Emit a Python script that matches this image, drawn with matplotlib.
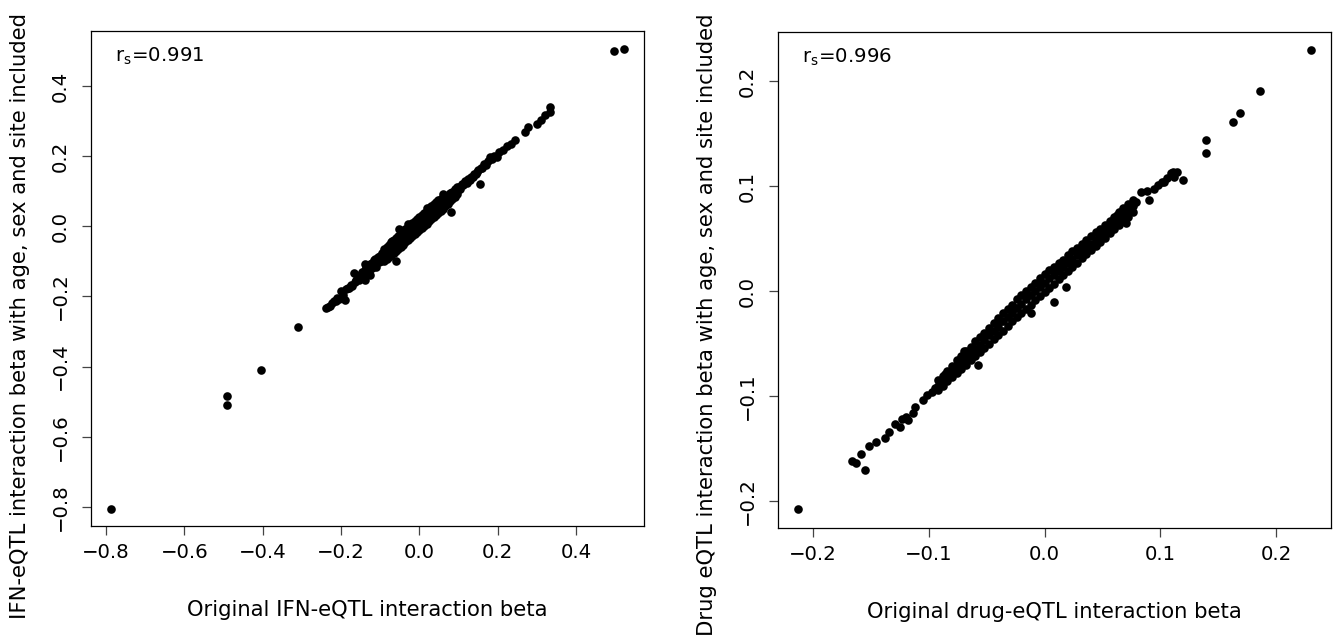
import matplotlib.pyplot as plt
import numpy as np

plt.rcParams['font.family'] = ['DejaVu Sans']
plt.rcParams['mathtext.fontset'] = 'dejavusans'

# ---- IFN-eQTL panel (original beta vs covariate-adjusted beta) ----
ifn_orig = [-0.787, -0.492, -0.490, -0.404, -0.309, 0.496, 0.522,
            # lower tail
            -0.238, -0.233, -0.229, -0.224, -0.219, -0.214, -0.210, -0.205, -0.199, -0.196,
            -0.191, -0.187, -0.183, -0.179, -0.175, -0.171, -0.168, -0.165, -0.161, -0.158,
            -0.155, -0.151, -0.148, -0.145, -0.142, -0.140, -0.138, -0.135, -0.132, -0.130,
            -0.127, -0.124, -0.121, -0.118, -0.115, -0.112, -0.110, -0.107, -0.104, -0.101,
            -0.098, -0.095, -0.092, -0.140, -0.134, -0.120, -0.113, -0.103, -0.060, -0.052,
            -0.146, -0.136, -0.126, -0.116, -0.106, -0.096,
            # dense core
            -0.090, -0.090, -0.090, -0.090, -0.084, -0.084, -0.084, -0.084,
            -0.078, -0.078, -0.078, -0.078, -0.072, -0.072, -0.072, -0.072,
            -0.066, -0.066, -0.066, -0.066, -0.060, -0.060, -0.060, -0.060,
            -0.054, -0.054, -0.054, -0.054, -0.048, -0.048, -0.048, -0.048,
            -0.042, -0.042, -0.042, -0.042, -0.036, -0.036, -0.036, -0.036,
            -0.030, -0.030, -0.030, -0.030, -0.024, -0.024, -0.024, -0.024,
            -0.018, -0.018, -0.018, -0.018, -0.012, -0.012, -0.012, -0.012,
            -0.006, -0.006, -0.006, -0.006, 0.000, 0.000, 0.000, 0.000,
            0.006, 0.006, 0.006, 0.006, 0.012, 0.012, 0.012, 0.012,
            0.018, 0.018, 0.018, 0.018, 0.024, 0.024, 0.024, 0.024,
            0.030, 0.030, 0.030, 0.030, 0.036, 0.036, 0.036, 0.036,
            0.042, 0.042, 0.042, 0.042, 0.048, 0.048, 0.048, 0.048,
            0.054, 0.054, 0.054, 0.054, 0.060, 0.060, 0.060, 0.060,
            0.066, 0.066, 0.066, 0.072, 0.072, 0.072, 0.078, 0.078, 0.078,
            0.084, 0.084, 0.084, 0.090, 0.090, 0.090, 0.096, 0.096, 0.096,
            0.081, 0.059, -0.070, -0.028, 0.020,
            # upper tail
            0.100, 0.104, 0.108, 0.112, 0.116, 0.120, 0.124, 0.128, 0.132, 0.136,
            0.140, 0.143, 0.146, 0.150, 0.154, 0.156, 0.160, 0.165, 0.170, 0.175,
            0.181, 0.186, 0.190, 0.197, 0.202, 0.213, 0.224, 0.234, 0.245, 0.270,
            0.277, 0.299, 0.310, 0.320, 0.334, 0.334]
ifn_adj = [-0.805, -0.510, -0.483, -0.410, -0.288, 0.501, 0.506,
           -0.232, -0.229, -0.226, -0.220, -0.214, -0.212, -0.204, -0.207, -0.185, -0.196,
           -0.211, -0.180, -0.176, -0.177, -0.167, -0.170, -0.133, -0.158, -0.154, -0.148,
           -0.152, -0.140, -0.146, -0.133, -0.138, -0.154, -0.126, -0.130, -0.122, -0.131,
           -0.140, -0.113, -0.118, -0.104, -0.110, -0.100, -0.116, -0.092, -0.101, -0.086,
           -0.099, -0.082, -0.088, -0.107, -0.118, -0.104, -0.093, -0.094, -0.099, -0.009,
           -0.130, -0.119, -0.108, -0.095, -0.087, -0.075,
           -0.100, -0.088, -0.076, -0.064, -0.094, -0.082, -0.070, -0.058,
           -0.088, -0.076, -0.064, -0.052, -0.082, -0.070, -0.058, -0.046,
           -0.076, -0.064, -0.052, -0.040, -0.070, -0.058, -0.046, -0.033,
           -0.064, -0.052, -0.040, -0.027, -0.058, -0.046, -0.034, -0.021,
           -0.052, -0.040, -0.028, -0.015, -0.046, -0.034, -0.022, -0.009,
           -0.040, -0.028, -0.016, -0.003, -0.034, -0.022, -0.010, 0.003,
           -0.028, -0.016, -0.004, 0.009, -0.022, -0.010, 0.002, 0.015,
           -0.016, -0.004, 0.008, 0.021, -0.010, 0.002, 0.014, 0.027,
           -0.004, 0.008, 0.020, 0.033, 0.002, 0.014, 0.026, 0.039,
           0.008, 0.020, 0.032, 0.045, 0.014, 0.026, 0.038, 0.051,
           0.020, 0.032, 0.044, 0.057, 0.026, 0.038, 0.050, 0.063,
           0.032, 0.044, 0.056, 0.068, 0.038, 0.050, 0.062, 0.074,
           0.044, 0.056, 0.068, 0.079, 0.050, 0.062, 0.074, 0.084,
           0.057, 0.070, 0.082, 0.064, 0.076, 0.088, 0.071, 0.083, 0.094,
           0.078, 0.089, 0.099, 0.085, 0.096, 0.106, 0.091, 0.102, 0.111,
           0.041, 0.093, -0.042, 0.006, 0.052,
           0.112, 0.106, 0.122, 0.118, 0.128, 0.124, 0.136, 0.132, 0.142, 0.140,
           0.150, 0.150, 0.156, 0.160, 0.122, 0.166, 0.166, 0.179, 0.176, 0.186,
           0.198, 0.192, 0.200, 0.198, 0.212, 0.217, 0.228, 0.236, 0.246, 0.268,
           0.284, 0.293, 0.303, 0.317, 0.327, 0.341]

# ---- Drug-eQTL panel ----
drug_orig = [0.2296, 0.186, 0.1685, 0.1626, 0.1396, 0.1393, -0.2126,
             -0.1667, -0.1626, -0.1589, -0.1548, -0.1515, -0.1456, -0.1381, -0.1341, -0.1293, -0.1250,
             -0.1235, -0.1198, -0.1178, -0.1135, -0.1120, -0.1054, -0.1019, -0.0970, -0.0947,
             -0.092, -0.092, -0.092, -0.088, -0.088, -0.088, -0.084, -0.084, -0.084,
             -0.080, -0.080, -0.080, -0.076, -0.076, -0.076, -0.072, -0.072, -0.072,
             -0.068, -0.068, -0.068, -0.064, -0.064, -0.064, -0.060, -0.060, -0.060,
             -0.056, -0.056, -0.056, -0.052, -0.052, -0.052, -0.048, -0.048, -0.048,
             -0.044, -0.044, -0.044, -0.040, -0.040, -0.040, -0.036, -0.036, -0.036,
             -0.032, -0.032, -0.032, -0.028, -0.028, -0.028, -0.024, -0.024, -0.024,
             -0.020, -0.020, -0.020, -0.016, -0.016, -0.016, -0.012, -0.012, -0.012,
             -0.008, -0.008, -0.008, -0.004, -0.004, -0.004, 0.000, 0.000, 0.000,
             0.004, 0.004, 0.004, 0.008, 0.008, 0.008, 0.012, 0.012, 0.012,
             0.016, 0.016, 0.016, 0.020, 0.020, 0.020, 0.024, 0.024, 0.024,
             0.028, 0.028, 0.028, 0.032, 0.032, 0.032, 0.036, 0.036, 0.036,
             0.040, 0.040, 0.040, 0.044, 0.044, 0.044, 0.048, 0.048, 0.048,
             0.052, 0.052, 0.052, 0.056, 0.056, 0.056, 0.060, 0.060, 0.060,
             0.064, 0.064, 0.064, 0.068, 0.068, 0.068, 0.072, 0.072, 0.072,
             0.076, 0.076, 0.076,
             0.0793, 0.0830, 0.0885, 0.0904, 0.0940, 0.0978, 0.1010, 0.1033, 0.1060, 0.1089,
             0.1110, 0.1144, 0.1120, 0.1193, 0.0700, 0.0626, 0.0181, 0.0081, -0.0700, -0.0578,
             -0.0120, -0.086, -0.074, -0.062, -0.050, -0.038, -0.026, -0.014, -0.002, 0.010,
             0.022, 0.034, 0.046]
drug_adj = [0.2295, 0.1908, 0.1700, 0.1610, 0.1441, 0.1311, -0.2076,
            -0.1619, -0.1635, -0.1556, -0.1708, -0.1476, -0.1441, -0.1397, -0.1343, -0.1267, -0.1292,
            -0.1222, -0.1197, -0.1229, -0.1165, -0.1108, -0.1038, -0.0990, -0.0959, -0.0927,
            -0.094, -0.090, -0.085, -0.090, -0.085, -0.081, -0.086, -0.081, -0.076,
            -0.082, -0.077, -0.071, -0.078, -0.072, -0.066, -0.074, -0.068, -0.062,
            -0.070, -0.064, -0.057, -0.066, -0.060, -0.053, -0.062, -0.055, -0.048,
            -0.058, -0.051, -0.044, -0.054, -0.047, -0.040, -0.050, -0.042, -0.035,
            -0.046, -0.038, -0.030, -0.042, -0.034, -0.026, -0.038, -0.029, -0.021,
            -0.033, -0.025, -0.017, -0.029, -0.021, -0.013, -0.025, -0.016, -0.008,
            -0.021, -0.012, -0.004, -0.017, -0.008, 0.000, -0.013, -0.004, 0.004,
            -0.009, 0.000, 0.008, -0.005, 0.004, 0.012, -0.001, 0.008, 0.016,
            0.003, 0.012, 0.020, 0.007, 0.015, 0.023, 0.011, 0.019, 0.027,
            0.015, 0.023, 0.030, 0.019, 0.027, 0.034, 0.023, 0.030, 0.038,
            0.027, 0.034, 0.041, 0.031, 0.038, 0.045, 0.035, 0.042, 0.049,
            0.039, 0.045, 0.052, 0.043, 0.049, 0.056, 0.047, 0.053, 0.059,
            0.051, 0.057, 0.063, 0.055, 0.061, 0.067, 0.059, 0.065, 0.071,
            0.063, 0.069, 0.075, 0.067, 0.073, 0.079, 0.071, 0.077, 0.083,
            0.075, 0.081, 0.087,
            0.0851, 0.0946, 0.0956, 0.0867, 0.0970, 0.1010, 0.1040, 0.1041, 0.1080, 0.1121,
            0.1130, 0.1137, 0.1085, 0.1057, 0.0644, 0.0724, 0.0041, -0.0102, -0.0568, -0.0705,
            -0.0210, -0.079, -0.066, -0.054, -0.041, -0.029, -0.016, -0.004, 0.008, 0.020,
            0.031, 0.043, 0.055]

ifn_xticks = [-0.8, -0.6, -0.4, -0.2, 0.0, 0.2, 0.4]
ifn_yticks = [-0.8, -0.6, -0.4, -0.2, 0.0, 0.2, 0.4]
drug_ticks = [-0.2, -0.1, 0.0, 0.1, 0.2]

fs = 14.2      # tick labels and r_s
fs_lab = 15.2  # axis titles
fig = plt.figure(figsize=(13.33, 6.37), dpi=100)
ax1 = fig.add_axes([0.0683, 0.1747, 0.4150, 0.7766])
ax2 = fig.add_axes([0.5834, 0.1716, 0.4149, 0.7786])

panels = [
    (ax1, ifn_orig, ifn_adj, (-0.838, 0.5735), (-0.854, 0.557), ifn_xticks, ifn_yticks,
     "Original IFN-eQTL interaction beta",
     "IFN-eQTL interaction beta with age, sex and site included", "0.991", 0.4245),
    (ax2, drug_orig, drug_adj, (-0.2305, 0.247), (-0.2254, 0.247), drug_ticks, drug_ticks,
     "Original drug-eQTL interaction beta",
     "Drug eQTL interaction beta with age, sex and site included", "0.996", 0.410),
]

for ax, xs, ys, xl, yl, xt, yt, xlab, ylab, rs, ylab_y in panels:
    ax.plot(xs, ys, 'o', color='black', ms=6.2, mew=0)
    ax.set_xlim(*xl)
    ax.set_ylim(*yl)
    ax.set_xticks(xt)
    ax.set_yticks(yt)
    ax.set_xticklabels([f"{t:.1f}".replace('-', '\u2212') for t in xt])
    ax.set_yticklabels([f"{t:.1f}".replace('-', '\u2212') for t in yt],
                       rotation=90, va='center')
    ax.tick_params(length=6.7, width=0.9, labelsize=fs, color='#444444')
    ax.tick_params(axis='x', pad=6)
    ax.tick_params(axis='y', pad=8.5)
    for s in ax.spines.values():
        s.set_linewidth(0.9)
    ax.set_xlabel(xlab, fontsize=fs_lab, va='center')
    ax.xaxis.set_label_coords(0.5, -0.17)
    ax.set_ylabel(ylab, fontsize=fs_lab, va='center')
    ax.yaxis.set_label_coords(-0.128, ylab_y)
    ax.text(0.044, 0.948, r'$\mathrm{r_s}$=' + rs, transform=ax.transAxes,
            ha='left', va='center', fontsize=fs)

fig.savefig('out.png', dpi=100)
